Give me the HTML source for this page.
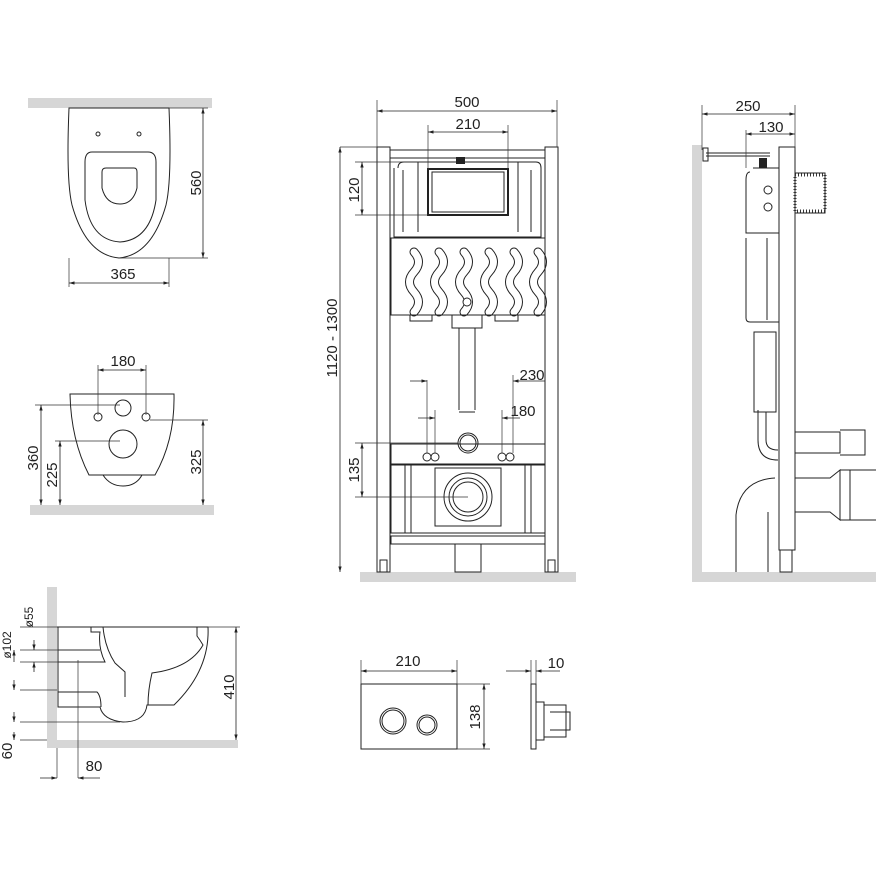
<!DOCTYPE html>
<html><head><meta charset="utf-8"><style>
html,body{margin:0;padding:0;background:#fff}
svg{display:block}
text{font-family:"Liberation Sans",sans-serif;fill:#222}
</style></head><body>
<svg width="876" height="876" viewBox="0 0 876 876" xmlns="http://www.w3.org/2000/svg">
<defs>
<marker id="a" viewBox="0 0 10 10" refX="10" refY="5" markerWidth="7" markerHeight="7" orient="auto-start-reverse"><path d="M0,2 L10,5 L0,8z" fill="#222"/></marker>
<path id="w" d="M0,0 q9,10 0,20 q-9,10 0,20 q9,10 0,20"/>
</defs>
<g fill="#d6d6d6">
<rect x="28" y="98" width="184" height="10"/>
<rect x="30" y="505" width="184" height="10"/>
<rect x="47" y="587" width="10" height="161"/>
<rect x="47" y="740" width="191" height="8"/>
<rect x="360" y="572" width="216" height="10"/>
<rect x="692" y="145" width="10" height="437"/>
<rect x="692" y="572" width="184" height="10"/>
</g>
<g fill="none" stroke="#222" stroke-width="1">
<!-- top view bowl -->
<path d="M69,108 L169,108 Q172,180 166,205 Q152,255 119,258 Q86,255 72,205 Q66,180 69,108Z"/>
<path d="M92,152 L148,152 Q156,152 156,162 L156,200 Q150,240 120,242 Q90,240 85,200 L85,162 Q85,152 92,152Z"/>
<path d="M106,168 L134,168 Q137,168 137,172 L137,188 Q133,204 120,204 Q106,204 102,188 L102,172 Q102,168 106,168Z"/>
<circle cx="98" cy="134" r="2"/><circle cx="139" cy="134" r="2"/>
<!-- front view bowl -->
<path d="M70,394 L174,394 Q175,440 155,475 L89,475 Q71,440 70,394Z"/>
<path d="M103,475 Q110,486 123,486 Q136,486 142,475"/>
<circle cx="123" cy="408" r="8"/><circle cx="123" cy="444" r="14"/>
<circle cx="98" cy="417" r="4"/><circle cx="146" cy="417" r="4"/>
<!-- side bowl -->
<path d="M57,627 L208,627 Q210,670 174,705 L147,705 Q145,722 123,722 Q103,720 100,707 L58,707 L58,627"/>
<path d="M58,692 L97,692 Q101,696 101,707"/>
<path d="M148,705 Q148,690 152,673 Q190,668 203,645 Q200,640 197,636 L197,627"/>
<path d="M91,627 L91,632 L100,632 Q98,648 105,662 L58,662"/>
<path d="M58,650 L100,650"/>
<path d="M103,627 Q105,648 115,663 L125,672 L125,697"/>
<!-- plate -->
<rect x="361" y="684" width="96" height="65"/>
<circle cx="393" cy="721" r="13"/><circle cx="393" cy="721" r="11"/>
<circle cx="427" cy="725" r="10"/><circle cx="427" cy="725" r="8"/>
<rect x="531" y="684" width="5" height="65"/>
<rect x="536" y="702" width="8" height="38"/>
<path d="M544,705 L566,705 L566,737 L544,737 M550,712 L570,712 L570,730 L550,730"/>
<!-- center frame -->
<rect x="377" y="147" width="13" height="425"/>
<rect x="545" y="147" width="13" height="425"/>
<rect x="390" y="150" width="155" height="8"/>
<path d="M398,168 Q398,162 404,162 L536,162 Q541,162 541,168 L541,237 L394,237 L394,168"/>
<path d="M403,170 L403,232 M531,170 L531,232 M418,162 L418,232 M518,162 L518,232"/>
<rect x="428" y="169" width="80" height="46" stroke-width="2"/>
<rect x="432" y="172" width="72" height="40"/>
<rect x="391" y="238" width="154" height="77"/>
<path d="M410,315 L432,315 L432,321 L410,321Z M495,315 L518,315 L518,321 L495,321Z"/>
<path d="M475,328 L475,410 M459,328 L459,410 M452,315 L482,315 L482,328 L452,328Z M459,412 L475,412"/>
<rect x="391" y="444" width="154" height="20"/>
<rect x="391" y="465" width="154" height="68"/>
<rect x="391" y="536" width="154" height="8"/>
<path d="M405,465 L405,533 M411,465 L411,533 M525,465 L525,533 M531,465 L531,533"/>
<rect x="435" y="468" width="66" height="58"/>
<circle cx="468" cy="497" r="24"/><circle cx="468" cy="497" r="19"/><circle cx="468" cy="497" r="15"/>
<circle cx="468" cy="443" r="10"/><circle cx="468" cy="443" r="8"/>
<circle cx="427" cy="457" r="4"/><circle cx="435" cy="457" r="4"/><circle cx="502" cy="457" r="4"/><circle cx="510" cy="457" r="4"/>
<rect x="455" y="544" width="26" height="28"/>
<rect x="380" y="560" width="7" height="12"/><rect x="548" y="560" width="7" height="12"/>
<!-- right side view -->
<rect x="779" y="147" width="16" height="403"/>
<rect x="780" y="550" width="12" height="22"/>
<path d="M706,153 L770,153 M706,156 L770,156"/>
<rect x="703" y="148" width="5" height="13"/>
<path d="M753,168 L779,168 M750,172 Q746,172 746,180 L746,233 L779,233"/>
<path d="M746,238 L746,318 Q746,322 750,322 L779,322 M767,238 L767,320"/>
<circle cx="768" cy="190" r="4"/><circle cx="768" cy="207" r="4"/>
<rect x="754" y="332" width="22" height="80"/>
<path d="M758,410 L758,440 Q758,460 778,460 M766,412 L766,440 Q766,450 778,450"/>
<rect x="795" y="173" width="30" height="40"/>
<path d="M795,432 L840,432 L840,453 L795,453 M840,430 L865,430 L865,455 L840,455 M795,478 L830,478 L840,470 L840,520 L830,512 L795,512 M850,470 L876,470 M850,520 L876,520 M840,470 L850,470 L850,520 L840,520"/>
<path d="M736,572 L736,515 Q740,480 775,478 M768,512 L768,572"/>
</g>
<!-- panel waves: outlined strips -->
<g fill="none" stroke-linecap="round">
<g stroke="#222" stroke-width="9">
<use href="#w" x="414" y="252"/><use href="#w" x="439" y="252"/><use href="#w" x="464" y="252"/><use href="#w" x="489" y="252"/><use href="#w" x="514" y="252"/><use href="#w" x="538" y="252"/>
</g>
<g stroke="#fff" stroke-width="7">
<use href="#w" x="414" y="252"/><use href="#w" x="439" y="252"/><use href="#w" x="464" y="252"/><use href="#w" x="489" y="252"/><use href="#w" x="514" y="252"/><use href="#w" x="538" y="252"/>
</g>
</g>
<rect x="391" y="238" width="154" height="77" fill="none" stroke="#222"/>
<circle cx="467" cy="302" r="4" fill="#fff" stroke="#222"/>
<rect x="795" y="175" width="30" height="36" fill="none" stroke="#333" stroke-dasharray="1 2" stroke-width="3"/>
<rect x="759" y="158" width="8" height="10" fill="#222"/>
<rect x="456" y="157" width="9" height="7" fill="#222"/>
<!-- dimension lines -->
<g stroke="#333" stroke-width="0.7" fill="none">
<path d="M169,108 L208,108 M119,258 L208,258 M69,258 L69,287 M169,258 L169,287"/>
<path d="M98,365 L98,415 M146,365 L146,415 M35,405 L120,405 M150,420 L208,420 M55,441 L120,441"/>
<path d="M20,627 L57,627 M20,650 L100,650 M20,662 L100,662 M20,690 L57,690 M20,722 L120,722 M20,740 L47,740 M57,748 L57,778 M78,660 L78,778 M208,627 L240,627"/>
<path d="M377,100 L377,147 M557,100 L557,147 M428,125 L428,169 M508,125 L508,169 M340,147 L377,147 M355,162 L428,162 M355,215 L428,215 M355,443 L458,443 M355,497 L468,497 M427,380 L427,453 M513,375 L513,453 M435,410 L435,453 M502,410 L502,453"/>
<path d="M361,660 L361,684 M457,660 L457,684 M457,684 L490,684 M457,749 L490,749 M531,660 L531,684 M536,660 L536,684"/>
<path d="M702,105 L702,150 M795,105 L795,150 M746,130 L746,168"/>
</g>
<g stroke="#222" stroke-width="0.8" fill="none" marker-start="url(#a)" marker-end="url(#a)">
<line x1="203" y1="108" x2="203" y2="258"/>
<line x1="69" y1="283" x2="169" y2="283"/>
<line x1="98" y1="370" x2="146" y2="370"/>
<line x1="41" y1="405" x2="41" y2="505"/>
<line x1="60" y1="441" x2="60" y2="505"/>
<line x1="203" y1="420" x2="203" y2="505"/>
<line x1="236" y1="627" x2="236" y2="740"/>
<line x1="377" y1="111" x2="557" y2="111"/>
<line x1="428" y1="132" x2="508" y2="132"/>
<line x1="340" y1="147" x2="340" y2="572"/>
<line x1="362" y1="162" x2="362" y2="215"/>
<line x1="362" y1="443" x2="362" y2="497"/>
<line x1="361" y1="671" x2="457" y2="671"/>
<line x1="484" y1="684" x2="484" y2="749"/>
<line x1="702" y1="114" x2="795" y2="114"/>
<line x1="746" y1="134" x2="795" y2="134"/>
</g>
<g stroke="#222" stroke-width="0.8" fill="none" marker-end="url(#a)">
<line x1="410" y1="381" x2="427" y2="381"/><line x1="545" y1="381" x2="513" y2="381"/>
<line x1="418" y1="418" x2="435" y2="418"/><line x1="520" y1="418" x2="502" y2="418"/>
<line x1="40" y1="778" x2="57" y2="778"/><line x1="100" y1="778" x2="78" y2="778"/>
<line x1="506" y1="671" x2="531" y2="671"/><line x1="560" y1="671" x2="536" y2="671"/>
<line x1="34" y1="640" x2="34" y2="650"/><line x1="34" y1="672" x2="34" y2="662"/>
<line x1="14" y1="680" x2="14" y2="690"/><line x1="14" y1="712" x2="14" y2="722"/>
<line x1="14" y1="662" x2="14" y2="650"/><line x1="14" y1="732" x2="14" y2="740"/>
</g>
<g font-size="15">
<text x="123" y="279" text-anchor="middle">365</text>
<text transform="translate(201,183) rotate(-90)" text-anchor="middle">560</text>
<text x="123" y="366" text-anchor="middle">180</text>
<text transform="translate(38,458) rotate(-90)" text-anchor="middle">360</text>
<text transform="translate(57,475) rotate(-90)" text-anchor="middle">225</text>
<text transform="translate(201,462) rotate(-90)" text-anchor="middle">325</text>
<text transform="translate(234,687) rotate(-90)" text-anchor="middle">410</text>
<text x="94" y="771" text-anchor="middle">80</text>
<text transform="translate(12,751) rotate(-90)" text-anchor="middle">60</text>
<text transform="translate(11,645) rotate(-90)" text-anchor="middle" font-size="12">ø102</text>
<text transform="translate(33,617) rotate(-90)" text-anchor="middle" font-size="12">ø55</text>
<text x="467" y="107" text-anchor="middle">500</text>
<text x="468" y="129" text-anchor="middle">210</text>
<text transform="translate(359,190) rotate(-90)" text-anchor="middle">120</text>
<text transform="translate(337,338) rotate(-90)" text-anchor="middle">1120 - 1300</text>
<text transform="translate(359,470) rotate(-90)" text-anchor="middle">135</text>
<text x="532" y="380" text-anchor="middle">230</text>
<text x="523" y="416" text-anchor="middle">180</text>
<text x="408" y="666" text-anchor="middle">210</text>
<text transform="translate(480,717) rotate(-90)" text-anchor="middle">138</text>
<text x="556" y="668" text-anchor="middle">10</text>
<text x="748" y="111" text-anchor="middle">250</text>
<text x="771" y="132" text-anchor="middle">130</text>
</g>
</svg>
</body></html>
